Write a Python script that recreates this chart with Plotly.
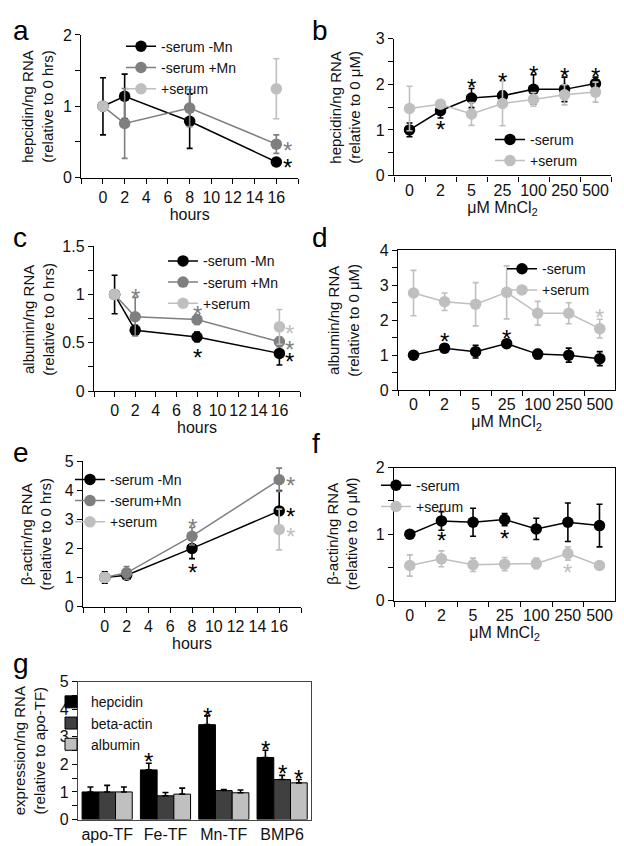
import plotly.graph_objects as go

W, H = 624, 846
FONT = "Liberation Sans, Arial, sans-serif"
BLACK, GRAY, LIGHT = "#000000", "#7f7f7f", "#bfbfbf"

# ---------------- data ----------------
hours = [0, 2, 8, 16]
hour_ticks = [-2, 0, 2, 4, 6, 8, 10, 12, 14, 16, 18]
hour_ticklabels = ["", "0", "2", "4", "6", "8", "10", "12", "14", "16", ""]
conc = ["0", "2", "5", "25", "100", "250", "500"]

# panel a: hepcidin vs hours
a_minus_mn = [1.0, 1.14, 0.79, 0.22]
a_minus_mn_err = [0.40, 0.31, 0.38, 0.05]
a_plus_mn = [1.0, 0.76, 0.975, 0.47]
a_plus_mn_err = [0.0, 0.49, 0.26, 0.13]
a_serum = [1.0, None, None, 1.245]
a_serum_err = [0.0, None, None, 0.42]
a_yticks = [0, 0.5, 1, 1.5, 2]
a_yticklabels = ["0", "", "1", "", "2"]
a_star_x = [17, 17]
a_star_y = [0.47, 0.22]
a_star_c = [GRAY, BLACK]

# panel b: hepcidin vs MnCl2
b_minus = [1.0, 1.42, 1.70, 1.75, 1.89, 1.89, 2.02]
b_minus_err = [0.15, 0.16, 0.21, 0.10, 0.32, 0.27, 0.14]
b_plus = [1.47, 1.565, 1.35, 1.58, 1.67, 1.77, 1.83]
b_plus_err = [0.49, 0.05, 0.25, 0.49, 0.15, 0.22, 0.22]
b_yticks = [0, 0.5, 1, 1.5, 2, 2.5, 3]
b_yticklabels = ["0", "", "1", "", "2", "", "3"]
b_star_x = ["2", "5", "25", "100", "250", "500"]
b_star_y = [1.13, 2.07, 2.19, 2.35, 2.30, 2.30]
b_star_c = [BLACK] * 6

# panel c: albumin vs hours
c_minus_mn = [1.0, 0.63, 0.56, 0.39]
c_minus_mn_err = [0.20, 0.05, 0.05, 0.12]
c_plus_mn = [1.0, 0.77, 0.74, 0.51]
c_plus_mn_err = [0.0, 0.20, 0.05, 0.05]
c_serum = [1.0, None, None, 0.665]
c_serum_err = [0.0, None, None, 0.18]
c_yticks = [0, 0.25, 0.5, 0.75, 1, 1.25, 1.5]
c_yticklabels = ["0", "", "0.5", "", "1", "", "1.5"]
c_star_x = [2, 8, 8, 17, 17, 17]
c_star_y = [1.03, 0.86, 0.41, 0.655, 0.49, 0.37]
c_star_c = [GRAY, GRAY, BLACK, LIGHT, GRAY, BLACK]

# panel d: albumin vs MnCl2
d_minus = [1.0, 1.2, 1.1, 1.33, 1.03, 1.0, 0.9]
d_minus_err = [0.04, 0.12, 0.18, 0.06, 0.13, 0.20, 0.20]
d_plus = [2.78, 2.53, 2.46, 2.80, 2.20, 2.20, 1.76]
d_plus_err = [0.65, 0.25, 0.62, 0.76, 0.34, 0.30, 0.27]
d_yticks = [0, 0.5, 1, 1.5, 2, 2.5, 3, 3.5, 4]
d_yticklabels = ["0", "", "1", "", "2", "", "3", "", "4"]
d_star_x = ["2", "25", "500"]
d_star_y = [1.55, 1.64, 2.25]
d_star_c = [BLACK, BLACK, LIGHT]

# panel e: beta-actin vs hours
e_minus_mn = [1.0, 1.08, 2.0, 3.29]
e_minus_mn_err = [0.20, 0.10, 0.35, 0.70]
e_plus_mn = [1.0, 1.16, 2.42, 4.36]
e_plus_mn_err = [0.15, 0.22, 0.30, 0.40]
e_serum = [1.0, None, None, 2.65]
e_serum_err = [0.15, None, None, 0.70]
e_yticks = [0, 1, 2, 3, 4, 5]
e_yticklabels = ["0", "1", "2", "3", "4", "5"]
e_star_x = [8, 8, 17, 17, 17]
e_star_y = [2.92, 1.38, 4.36, 3.29, 2.62]
e_star_c = [GRAY, BLACK, GRAY, BLACK, LIGHT]

# panel f: beta-actin vs MnCl2
f_minus = [1.0, 1.2, 1.18, 1.22, 1.08, 1.18, 1.13]
f_minus_err = [0.03, 0.14, 0.21, 0.09, 0.16, 0.29, 0.32]
f_plus = [0.53, 0.63, 0.54, 0.55, 0.56, 0.71, 0.53]
f_plus_err = [0.16, 0.12, 0.10, 0.10, 0.08, 0.10, 0.02]
f_yticks = [0, 0.5, 1, 1.5, 2]
f_yticklabels = ["0", "", "1", "", "2"]
f_star_x = ["2", "25", "250"]
f_star_y = [0.99, 1.03, 0.52]
f_star_c = [BLACK, BLACK, LIGHT]

# panel g: bar chart
g_groups = ["apo-TF", "Fe-TF", "Mn-TF", "BMP6"]
g_hepcidin = [1.0, 1.80, 3.44, 2.25]
g_hepcidin_err = [0.18, 0.24, 0.32, 0.26]
g_actin = [1.0, 0.86, 1.05, 1.45]
g_actin_err = [0.24, 0.12, 0.04, 0.15]
g_albumin = [1.0, 0.92, 0.97, 1.33]
g_albumin_err = [0.18, 0.22, 0.10, 0.12]
g_yticks = [0, 0.5, 1, 1.5, 2, 2.5, 3, 3.5, 4, 4.5, 5]
g_yticklabels = ["0", "", "1", "", "2", "", "3", "", "4", "", "5"]
g_star_x = ["Fe-TF", "Mn-TF", "BMP6", "BMP6", "BMP6"]
g_star_y = [2.33, 3.97, 2.77, 1.90, 1.70]
g_star_series = [0, 0, 0, 1, 2]

# ---------------- layout geometry (pixels) ----------------
geom = {
    1: dict(x=(73.3, 290), y=(19.3, 165)),
    2: dict(x=(386, 603), y=(23.3, 162.7)),
    3: dict(x=(86, 292), y=(235, 382.7)),
    4: dict(x=(390, 607.3), y=(239.3, 381.7)),
    5: dict(x=(75, 293), y=(454.3, 602.7)),
    6: dict(x=(386, 607.3), y=(461, 596.7)),
    7: dict(x=(70, 303.3), y=(679.3, 820)),
}


def dom(n):
    g = geom[n]
    return [g["x"][0] / W, g["x"][1] / W], [1 - g["y"][1] / H, 1 - g["y"][0] / H]


def ax(n):
    return ("x" if n == 1 else f"x{n}"), ("y" if n == 1 else f"y{n}")


def lg(n):
    return "legend" if n == 1 else f"legend{n}"


fig = go.Figure()


def add_line(n, x, y, err, color, name):
    xa, ya = ax(n)
    fig.add_trace(go.Scatter(
        x=x, y=y, mode="lines+markers", name=name, connectgaps=False,
        line=dict(color=color, width=1.5), marker=dict(color=color, size=11.5),
        error_y=dict(type="data", array=err, color=color, thickness=1.6, width=3),
        xaxis=xa, yaxis=ya, legend=lg(n)))


add_line(1, hours, a_minus_mn, a_minus_mn_err, BLACK, "-serum -Mn")
add_line(1, hours, a_plus_mn, a_plus_mn_err, GRAY, "-serum +Mn")
add_line(1, hours, a_serum, a_serum_err, LIGHT, "+serum")

add_line(2, conc, b_minus, b_minus_err, BLACK, "-serum")
add_line(2, conc, b_plus, b_plus_err, LIGHT, "+serum")

add_line(3, hours, c_minus_mn, c_minus_mn_err, BLACK, "-serum -Mn")
add_line(3, hours, c_plus_mn, c_plus_mn_err, GRAY, "-serum +Mn")
add_line(3, hours, c_serum, c_serum_err, LIGHT, "+serum")

add_line(4, conc, d_minus, d_minus_err, BLACK, "-serum")
add_line(4, conc, d_plus, d_plus_err, LIGHT, "+serum")

add_line(5, hours, e_minus_mn, e_minus_mn_err, BLACK, "-serum -Mn")
add_line(5, hours, e_plus_mn, e_plus_mn_err, GRAY, "-serum+Mn")
add_line(5, hours, e_serum, e_serum_err, LIGHT, "+serum")

add_line(6, conc, f_minus, f_minus_err, BLACK, "-serum")
add_line(6, conc, f_plus, f_plus_err, LIGHT, "+serum")

bar_colors = [BLACK, "#404040", "#c0c0c0"]
bar_names = ["hepcidin", "beta-actin", "albumin"]
bar_vals = [g_hepcidin, g_actin, g_albumin]
bar_errs = [g_hepcidin_err, g_actin_err, g_albumin_err]
for nm, col, v, e in zip(bar_names, bar_colors, bar_vals, bar_errs):
    fig.add_trace(go.Bar(
        x=g_groups, y=v, name=nm, marker=dict(color=col, line=dict(color="#000", width=1)),
        error_y=dict(type="data", array=e, arrayminus=[0] * len(e), symmetric=False,
                     color="#000", thickness=1.6, width=3),
        xaxis="x7", yaxis="y7", legend="legend7"))

# ---------------- axes ----------------
FS = 16
tickfont = dict(family=FONT, size=FS, color="#111")
yt = {1: (a_yticks, a_yticklabels, [0, 2]), 2: (b_yticks, b_yticklabels, [0, 3]),
      3: (c_yticks, c_yticklabels, [0, 1.5]), 4: (d_yticks, d_yticklabels, [0, 4]),
      5: (e_yticks, e_yticklabels, [0, 5]), 6: (f_yticks, f_yticklabels, [0, 2]),
      7: (g_yticks, g_yticklabels, [0, 5])}
xtitles = {1: "hours", 2: "μM MnCl<sub>2</sub>", 3: "hours", 4: "μM MnCl<sub>2</sub>",
           5: "hours", 6: "μM MnCl<sub>2</sub>", 7: None}
layout = {}
for n in range(1, 8):
    xd, yd = dom(n)
    xa, ya = ax(n)
    xkey = "xaxis" if n == 1 else f"xaxis{n}"
    ykey = "yaxis" if n == 1 else f"yaxis{n}"
    frame = n in (4, 6, 7)
    lc = "#000" if n != 7 else "#444"
    xcfg = dict(domain=xd, anchor=ya, showgrid=False, zeroline=False, showline=True,
                linecolor=lc, linewidth=1.4, mirror=frame, tickfont=tickfont, tickangle=0,
                ticks="outside", ticklen=5, tickcolor="#000", tickwidth=1.2)
    if n in (1, 3, 5):
        xcfg.update(range=[-2, 18], tickmode="array", tickvals=hour_ticks, ticktext=hour_ticklabels)
    elif n in (2, 4, 6):
        xcfg.update(type="category", range=[-0.5, 6.5], tickson="boundaries")
    else:
        xcfg.update(type="category", range=[-0.5, 3.5], ticks="")
    if xtitles[n]:
        xcfg["title"] = dict(text=xtitles[n], font=dict(family=FONT, size=FS, color="#111"), standoff=0)
    tv, tt, rng = yt[n]
    ycfg = dict(domain=yd, anchor=xa, range=rng, tickmode="array", tickvals=tv, ticktext=tt,
                showgrid=False, zeroline=False, showline=True, linecolor=lc, linewidth=1.4,
                mirror=frame, ticks="outside", ticklen=5, tickcolor="#000", tickwidth=1.2,
                tickfont=tickfont)
    layout[xkey] = xcfg
    layout[ykey] = ycfg

# ---------------- legends ----------------
LFS = 14
legpos = {1: (113, 15), 2: (482, 110), 3: (155, 234), 4: (494, 242),
          5: (62, 457), 6: (368, 463), 7: (43, 684)}
for n, (lx, ly) in legpos.items():
    layout[lg(n)] = dict(x=lx / W, y=1 - ly / H, xanchor="left", yanchor="top",
                         bgcolor="rgba(0,0,0,0)", borderwidth=0,
                         font=dict(family=FONT, size=LFS, color="#111"),
                         itemwidth=30, tracegroupgap=0)

fig.update_layout(**layout)

# ---------------- annotations ----------------
ann = []


def stars(n, xs, ys, cs, xshifts=None, cats=None):
    xa, ya = ax(n)
    for i, (x, y, c) in enumerate(zip(xs, ys, cs)):
        xv = cats.index(x) if cats else x
        ann.append(dict(x=xv, y=y, xref=xa, yref=ya, text="*", showarrow=False,
                        font=dict(family=FONT, size=24, color=c), xanchor="center",
                        yanchor="middle", yshift=-6,
                        xshift=(xshifts[i] if xshifts else 0)))


stars(1, a_star_x, a_star_y, a_star_c)
stars(2, b_star_x, b_star_y, b_star_c, cats=conc)
stars(3, c_star_x, c_star_y, c_star_c)
stars(4, d_star_x, d_star_y, d_star_c, cats=conc)
stars(5, e_star_x, e_star_y, e_star_c)
stars(6, f_star_x, f_star_y, f_star_c, cats=conc)
barw = 16.7
stars(7, g_star_x, g_star_y, [BLACK] * len(g_star_x),
      xshifts=[(s - 1) * barw for s in g_star_series], cats=g_groups)

# y-axis titles
ytitles = {
    1: ("hepcidin/ng RNA<br>(relative to 0 hrs)", 29.5),
    2: ("hepcidin/ng RNA<br>(relative to 0 μM)", 336.7),
    3: ("albumin/ng RNA<br>(relative to 0 hrs)", 31),
    4: ("albumin/ng RNA<br>(relative to 0 μM)", 335.5),
    5: ("β-actin/ng RNA<br>(relative to 0 hrs)", 28.7),
    6: ("β-actin/ng RNA<br>(relative to 0 μM)", 334),
    7: ("expression/ng RNA<br>(relative to apo-TF)", 21.7),
}
for n, (txt, xc) in ytitles.items():
    _, yd = dom(n)
    ann.append(dict(x=xc / W, y=(yd[0] + yd[1]) / 2, xref="paper", yref="paper", text=txt,
                    textangle=-90, showarrow=False, xanchor="center", yanchor="middle",
                    font=dict(family=FONT, size=15, color="#111")))

# panel letters
letters = [("a", 3, 15), ("b", 302, 15), ("c", 3, 226), ("d", 302, 226),
           ("e", 3, 445), ("f", 302, 436), ("g", 3, 661)]
for t, lx, ly in letters:
    ann.append(dict(x=lx / W, y=1 - ly / H, xref="paper", yref="paper", text=t,
                    showarrow=False, xanchor="left", yanchor="middle",
                    font=dict(family=FONT, size=28, color="#000")))

fig.update_layout(
    annotations=ann, width=W, height=H, margin=dict(l=0, r=0, t=0, b=0),
    paper_bgcolor="white", plot_bgcolor="white", barmode="group", bargap=0.14,
    bargroupgap=0, font=dict(family=FONT, color="#111"))

fig.write_html("out.html")
